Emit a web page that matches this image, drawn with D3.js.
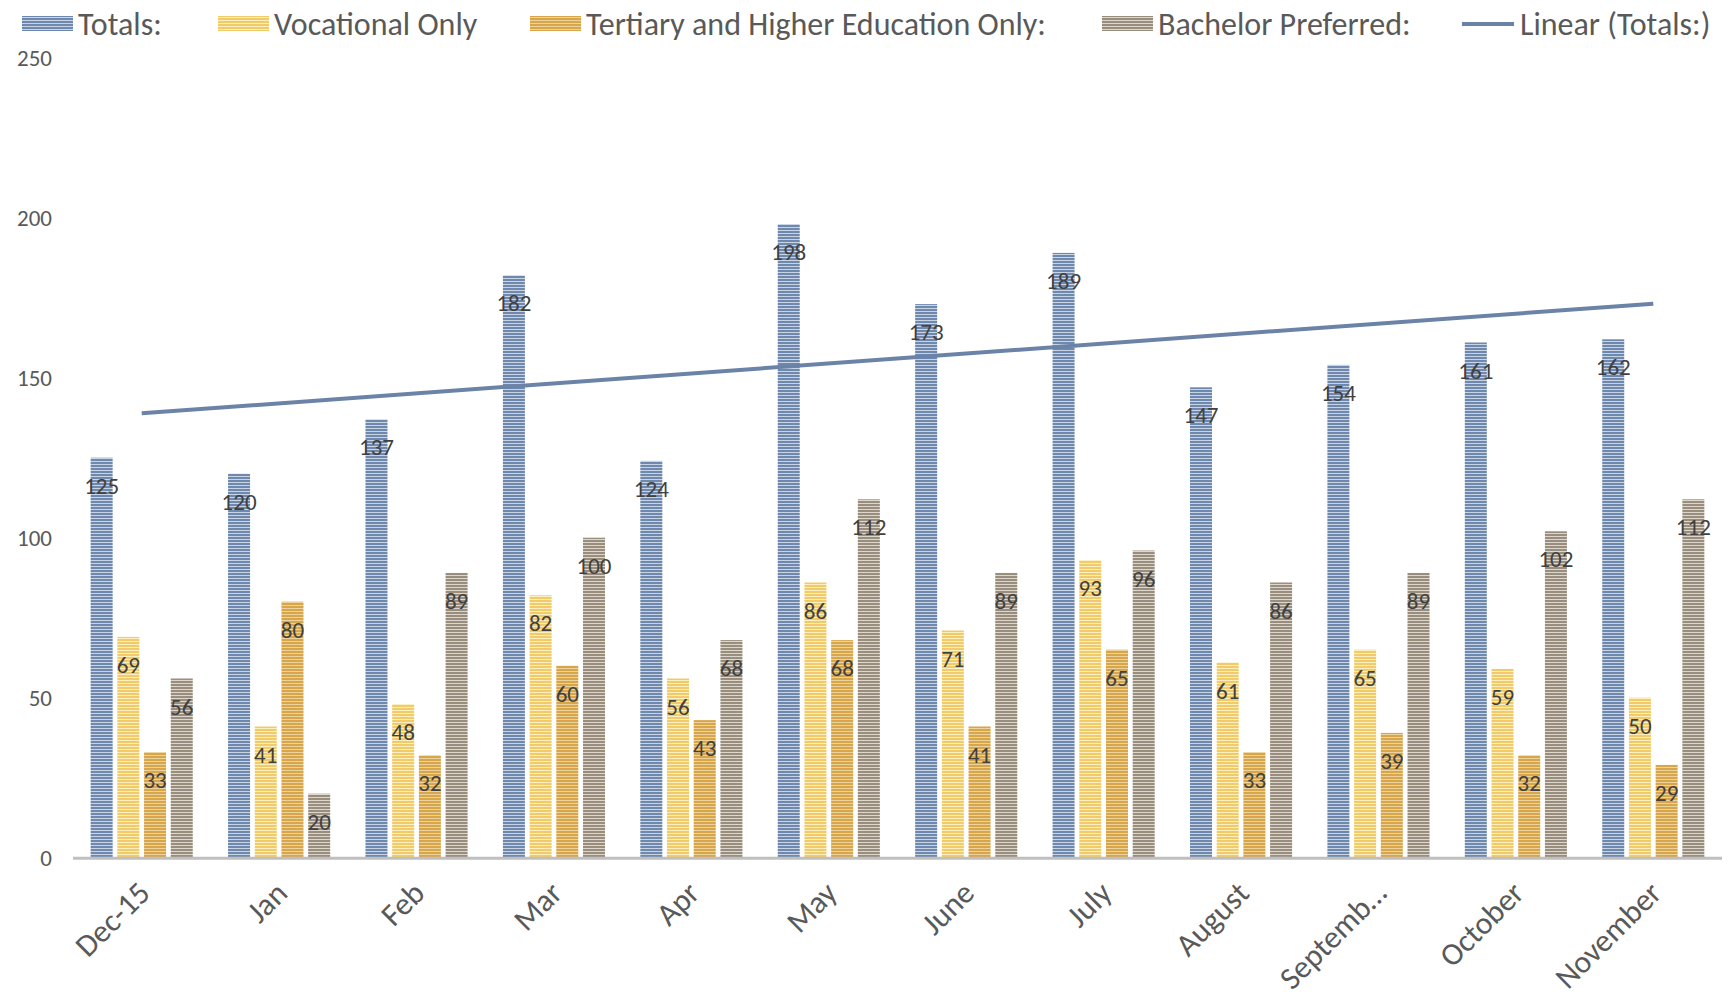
<!DOCTYPE html>
<meta charset="utf-8">

<style>
html,body{
  margin:0;
}
body{
  background: #fff;
}
text{
  font-family: Carlito, Calibri, "Open Sans", sans-serif;
}
.ytick{
  fill: #595959;
  font-size: 23px;
}
.xtick{
  fill: #595959;
  font-size: 31.5px;
}
.legend text{
  fill: #595959;
  font-size: 32px;
}
.lbl{
  fill: #404040;
  font-size: 23px;
}
</style>

<script src="https://d3js.org/d3.v7.min.js" charset="utf-8"></script>

<body>
<script>

var months = ["Dec-15","Jan","Feb","Mar","Apr","May","June","July","August","Septemb\u2026","October","November"];
var seriesNames = ["Totals:","Vocational Only","Tertiary and Higher Education Only:","Bachelor Preferred:"];

var totals     = [125,120,137,182,124,198,173,189,147,154,161,162];
var vocational = [69,41,48,82,56,86,71,93,61,65,59,50];
var tertiary   = [33,80,32,60,43,68,41,65,33,39,32,29];
var bachelor   = [56,20,89,100,68,112,89,96,86,89,102,112];

var yTicks = [0,50,100,150,200,250];

var allvalues = [totals, vocational, tertiary, bachelor];
// stripe colours: dark, light
var stripes = [["#6f88ae","#c8d3e4"],["#f1cb69","#fbeebf"],["#d7a54a","#edd29b"],["#998e7e","#dcd6cc"]];

var width = 1733,
    height = 995;

var svg = d3.select("body").append("svg")
    .attr("width", width)
    .attr("height", height);

var defs = svg.append("defs");
stripes.forEach(function(c, i){
  var p = defs.append("pattern")
      .attr("id", "stripe" + i)
      .attr("patternUnits", "userSpaceOnUse")
      .attr("width", 6)
      .attr("height", 3);
  p.append("rect").attr("width", 6).attr("height", 3).attr("fill", c[1]);
  p.append("rect").attr("width", 6).attr("height", 2).attr("fill", c[0]);
});

var x0 = d3.scaleBand()
    .domain(months)
    .range([73, 1722]);

var x1 = d3.scaleBand()
    .domain(d3.range(4))
    .range([0, x0.bandwidth()])
    .paddingInner(0.176)
    .paddingOuter(0.661);

var y = d3.scaleLinear()
    .domain([0, 250])
    .range([857.7, 57.7]);

// y labels
svg.append("g").selectAll("text")
  .data(yTicks)
  .enter().append("text")
  .attr("class", "ytick")
  .attr("x", 52)
  .attr("y", function(d){ return y(d); })
  .attr("dy", "0.35em")
  .attr("text-anchor", "end")
  .text(function(d){ return d; });

// bars
var groups = svg.append("g").selectAll("g")
  .data(months)
  .enter().append("g")
  .attr("transform", function(d){ return "translate(" + x0(d) + ",0)"; });

groups.selectAll("rect")
  .data(function(d, i){ return allvalues.map(function(s, k){ return {k: k, v: s[i]}; }); })
  .enter().append("rect")
  .attr("x", function(d){ return x1(d.k); })
  .attr("y", function(d){ return y(d.v); })
  .attr("width", x1.bandwidth())
  .attr("height", function(d){ return y(0) - y(d.v); })
  .attr("fill", function(d){ return "url(#stripe" + d.k + ")"; });

// axis line
svg.append("line")
  .attr("x1", 73).attr("x2", 1722)
  .attr("y1", y(0) + 0.5).attr("y2", y(0) + 0.5)
  .attr("stroke", "#bfbfbf")
  .attr("stroke-width", 3);

// trendline (least squares on totals)
var n = totals.length;
var mx = d3.mean(d3.range(1, n + 1)), my = d3.mean(totals);
var sxy = d3.sum(totals, function(v, i){ return (i + 1 - mx) * (v - my); });
var sxx = d3.sum(d3.range(1, n + 1), function(k){ return (k - mx) * (k - mx); });
var slope = sxy / sxx, icpt = my - slope * mx;

svg.append("line")
  .attr("x1", x0(months[0]) + x0.bandwidth() / 2)
  .attr("x2", x0(months[n - 1]) + x0.bandwidth() / 2)
  .attr("y1", y(icpt + slope))
  .attr("y2", y(icpt + slope * n))
  .attr("stroke", "#6a83a7")
  .attr("stroke-width", 4);

// data labels
groups.selectAll(".lbl")
  .data(function(d, i){ return allvalues.map(function(s, k){ return {k: k, v: s[i]}; }); })
  .enter().append("text")
  .attr("class", "lbl")
  .attr("x", function(d){ return x1(d.k) + x1.bandwidth() / 2; })
  .attr("y", function(d){ return y(d.v) + 36; })
  .attr("text-anchor", "middle")
  .text(function(d){ return d.v; });

// month labels
svg.append("g").selectAll("text")
  .data(months)
  .enter().append("text")
  .attr("class", "xtick")
  .attr("text-anchor", "end")
  .attr("transform", function(d){
    return "translate(" + (x0(d) + x0.bandwidth() / 2 + 10) + ",895) rotate(-45)";
  })
  .text(function(d){ return d; });

// legend
var legendX = [22, 218, 530, 1102];
var legend = svg.append("g").attr("class", "legend");
seriesNames.forEach(function(name, i){
  legend.append("rect")
    .attr("x", legendX[i]).attr("y", 16)
    .attr("width", 51).attr("height", 15)
    .attr("fill", "url(#stripe" + i + ")");
  legend.append("text")
    .attr("x", legendX[i] + 56).attr("y", 24)
    .attr("dy", "0.35em")
    .text(name);
});
legend.append("line")
  .attr("x1", 1462).attr("x2", 1514)
  .attr("y1", 24).attr("y2", 24)
  .attr("stroke", "#6a83a7")
  .attr("stroke-width", 4);
legend.append("text")
  .attr("x", 1520).attr("y", 24)
  .attr("dy", "0.35em")
  .text("Linear (Totals:)");

</script>
</body>
</html>
